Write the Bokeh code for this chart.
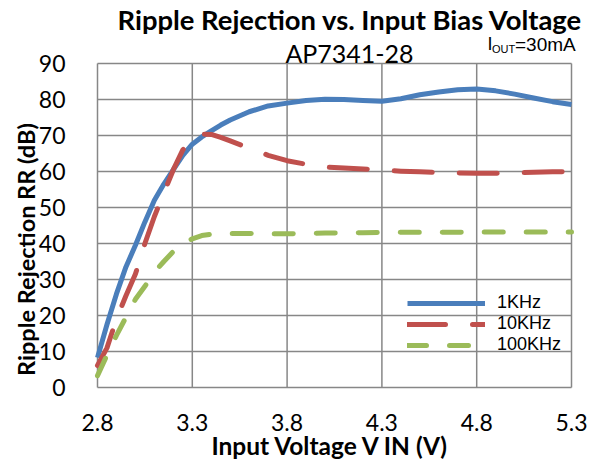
import math
from bokeh.plotting import figure
from bokeh.models import Range1d, FixedTicker, Label, Legend, LegendItem
from bokeh.embed import file_html
from bokeh.resources import INLINE

# ---- data ----
x_1k = [2.8, 2.85, 2.9, 2.95, 3.0, 3.05, 3.1, 3.15, 3.2, 3.25, 3.3, 3.35, 3.4, 3.45, 3.5, 3.6, 3.7,
        3.8, 3.9, 4.0, 4.1, 4.2, 4.3, 4.4, 4.5, 4.6, 4.7, 4.8, 4.9, 5.0, 5.1, 5.2, 5.3]
rr_1k = [8.3, 17.5, 26.0, 33.5, 39.5, 46.0, 52.0, 56.5, 60.5, 64.5, 67.6, 69.6, 71.3, 72.9, 74.3, 76.6, 78.2,
         79.0, 79.7, 80.1, 80.0, 79.7, 79.5, 80.2, 81.3, 82.1, 82.7, 82.9, 82.4, 81.5, 80.4, 79.4, 78.6]

x_10k = [2.8, 2.85, 2.9, 2.95, 3.0, 3.05, 3.1, 3.15, 3.2, 3.25, 3.3, 3.35, 3.4, 3.45, 3.5, 3.6,
         3.7, 3.8, 3.9, 4.0, 4.1, 4.2, 4.3, 4.4, 4.5, 4.6, 4.7, 4.8, 4.9, 5.0, 5.1, 5.2, 5.3]
rr_10k = [6.1, 11.0, 19.0, 25.5, 31.5, 40.0, 47.5, 54.0, 60.5, 66.0, 69.0, 70.4, 70.3, 69.5, 68.5, 66.5,
          64.5, 63.0, 62.0, 61.2, 61.0, 60.7, 60.4, 60.1, 59.9, 59.7, 59.6, 59.5, 59.5, 59.6, 59.8, 59.9, 60.0]

x_100k = [2.8, 2.85, 2.9, 2.95, 3.0, 3.05, 3.1, 3.15, 3.2, 3.25, 3.3, 3.35, 3.4, 3.5, 3.6, 3.7,
          3.8, 3.9, 4.0, 4.2, 4.4, 4.6, 4.8, 5.0, 5.3]
rr_100k = [3.3, 9.0, 14.5, 19.5, 24.5, 28.1, 32.0, 35.0, 37.8, 40.0, 41.3, 42.2, 42.6, 42.8, 42.8, 42.7,
           42.7, 42.8, 42.9, 43.0, 43.1, 43.1, 43.2, 43.2, 43.2]

x_ticks = [2.8, 3.3, 3.8, 4.3, 4.8, 5.3]
y_ticks = [0, 10, 20, 30, 40, 50, 60, 70, 80, 90]
series_names = ["1KHz", "10KHz", "100KHz"]

title_text = "Ripple Rejection vs. Input Bias Voltage"
subtitle_text = "AP7341-28"
x_label = "Input Voltage V IN (V)"
y_label = "Ripple Rejection RR (dB)"

# ---- layout helpers (pixel scale: 189.6 px per V, 3.6 px per dB) ----
# The frame covers the whole canvas; the axes are pinned to the plot-area edges
# (fixed_location) so that every text can sit inside the frame.
W, H = 597, 462
PX_PER_V = 189.6
PX_PER_DB = 3.6
PLOT_LEFT, PLOT_BOTTOM = 97, 387


def dx(px):
    return x_ticks[0] + (px - PLOT_LEFT) / PX_PER_V


def dy(py):
    return y_ticks[0] + (PLOT_BOTTOM - py) / PX_PER_DB


GRID = "#878787"
p = figure(width=W, height=H, output_backend="svg", toolbar_location=None, title=None,
           x_range=Range1d(dx(0), dx(W)), y_range=Range1d(dy(H), dy(0)),
           min_border_left=0, min_border_right=0, min_border_top=0, min_border_bottom=0)
p.background_fill_color = "white"
p.border_fill_color = "white"
p.outline_line_color = None
p.xgrid.visible = False
p.ygrid.visible = False

n_x, n_y = len(x_ticks), len(y_ticks)
# grid lines and border bounded to the plot area
p.segment(x0=x_ticks, y0=[y_ticks[0]] * n_x, x1=x_ticks, y1=[y_ticks[-1]] * n_x,
          line_color=GRID, line_width=1.5)
p.segment(x0=[x_ticks[0]] * n_y, y0=y_ticks, x1=[x_ticks[-1]] * n_y, y1=y_ticks,
          line_color=GRID, line_width=1.5)

p.xaxis.ticker = FixedTicker(ticks=x_ticks)
p.yaxis.ticker = FixedTicker(ticks=y_ticks)
p.xaxis.fixed_location = y_ticks[0]
p.yaxis.fixed_location = x_ticks[0]
for ax in (p.xaxis, p.yaxis):
    ax.axis_line_color = None
    ax.major_tick_line_color = None
    ax.minor_tick_line_color = None
    ax.major_tick_out = 0
    ax.major_tick_in = 0
    ax.major_label_text_font = "Lato"
    ax.major_label_text_font_size = "23px"
    ax.major_label_text_color = "black"
p.yaxis.major_label_standoff = 32
p.xaxis.major_label_standoff = 26

r1 = p.line(x_1k, rr_1k, line_color="#4A7EBB", line_width=5, line_join="round")
r2 = p.line(x_10k, rr_10k, line_color="#C0504D", line_width=5, line_dash="38 27",
            line_cap="round", line_join="round")
r3 = p.line(x_100k, rr_100k, line_color="#9BBB59", line_width=5, line_dash="19 23",
            line_cap="round", line_join="round")

legend = Legend(items=[LegendItem(label=series_names[0], renderers=[r1]),
                       LegendItem(label=series_names[1], renderers=[r2]),
                       LegendItem(label=series_names[2], renderers=[r3])],
                location=(407, H - 355), orientation="vertical")
legend.background_fill_alpha = 0
legend.border_line_alpha = 0
legend.padding = 0
legend.margin = 0
legend.spacing = 0
legend.glyph_width = 78
legend.glyph_height = 20
legend.label_height = 20
legend.label_standoff = 12
legend.label_text_font = "Liberation Sans"
legend.label_text_font_size = "18px"
legend.label_text_color = "black"
p.add_layout(legend, "center")


def add_text(px, py, text, size, font="Lato", style="normal", align="left", angle=0.0):
    p.add_layout(Label(x=dx(px), y=dy(py), text=text, text_align=align,
                       text_baseline="middle", text_font=font, text_font_style=style,
                       text_font_size=size, text_color="black", angle=angle))


add_text(117, 19, title_text, "27.4px", style="bold")
add_text(349, 52, subtitle_text, "25px", align="center")
add_text(487, 43.5, "I", "18px", font="Liberation Sans")
add_text(491.5, 48, "OUT", "11px", font="Liberation Sans")
add_text(514.5, 43.5, "=30mA", "19px", font="Liberation Sans")
add_text(330, 445, x_label, "24.5px", style="bold", align="center")
add_text(25, 249, y_label, "23.5px", style="bold", align="center", angle=math.pi / 2)

open("out.html", "w").write(file_html(p, INLINE))
